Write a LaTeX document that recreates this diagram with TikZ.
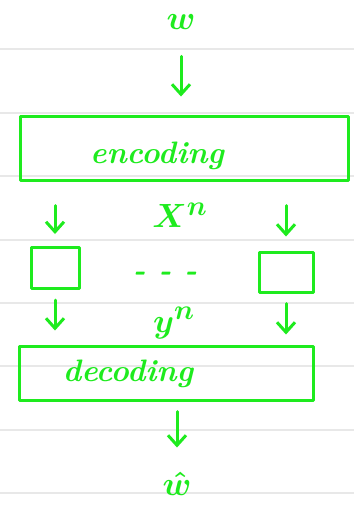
\documentclass[tikz,border=0pt]{standalone}
\usepackage{amsmath}
\usepackage{graphicx}
\usepackage{tikz}
\usetikzlibrary{arrows.meta}

\definecolor{pen}{RGB}{30,235,30}
\definecolor{rule}{RGB}{232,232,232}
\newcommand{\bigsym}[1]{\scalebox{1.35}{$#1$}}

\begin{document}
\begin{tikzpicture}
            [x=1pt,y=-1pt,line width=3pt,line cap=round,line join=round,
             every node/.style={text=pen,font=\fontsize{31}{33}\selectfont\bfseries\itshape\boldmath},
             blk/.style={draw=pen,rectangle,inner sep=0pt},
             arr/.style={draw=pen,-{Straight Barb[length=10pt,width=18pt]}}]
            \useasboundingbox[fill=white] (0,0) rectangle (354,507);
            % ruled lines of the notepad
            \foreach \y in {49,113,176,240,303,366,430,493}
                \draw[rule,line width=1.5pt] (0,\y) -- (354,\y);

            \node (w) at (181,22) {\bigsym{w}};
            \node[blk,minimum width=328pt,minimum height=64pt] (enc) at (184,148) {};
            \node (enctxt) at (157,156) {encoding};
            \node[blk,minimum width=48pt,minimum height=41pt] (ch1) at (55,268) {};
            \node[blk,minimum width=54pt,minimum height=40pt] (ch2) at (286,272) {};
            \node (dots) at (165,276) {- - -};
            \node (xn) at (180,215) {\bigsym{X^n}};
            \node[blk,minimum width=294pt,minimum height=54pt] (dec) at (166,373) {};
            \node (dectxt) at (128,374) {decoding};
            \node (yn) at (174,323) {\bigsym{y^n}};
            \node (what) at (177,484) {\bigsym{\hat{w}}};

            \draw[arr,shorten <=22pt,shorten >=18pt] (w) -- (enc.north -| w);
            \draw[arr,shorten <=24pt,shorten >=12pt] (enc.south -| ch1) -- (ch1.north);
            \draw[arr,shorten <=24pt,shorten >=14pt] (enc.south -| ch2) -- (ch2.north);
            \draw[arr,shorten <=10pt,shorten >=14pt] (ch1.south) -- (dec.north -| ch1);
            \draw[arr,shorten <=10pt,shorten >=10pt] (ch2.south) -- (dec.north -| ch2);
            \draw[arr,shorten <=10pt,shorten >=20pt] (dec.south -| what) -- (what);

        \end{tikzpicture}
\end{document}
